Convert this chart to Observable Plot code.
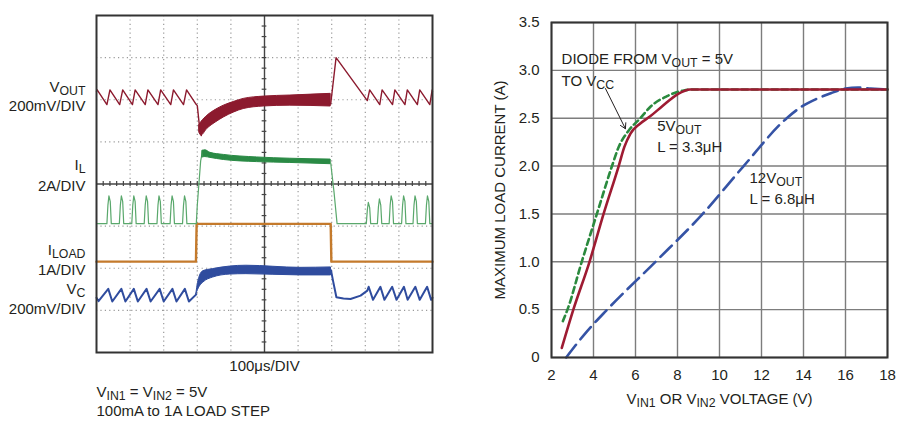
<!DOCTYPE html>
<html><head><meta charset="utf-8">
<script src="https://cdn.jsdelivr.net/npm/d3@7"></script>
<script src="https://cdn.jsdelivr.net/npm/@observablehq/plot@0.6"></script>
<style>
body{margin:0;background:#fff;}
#wrap{position:relative;width:900px;height:426px;overflow:hidden;}
#left,#right{position:absolute;top:0;}
#left{left:0}#right{left:450px}
</style></head><body><div id="wrap"><div id="left"></div><div id="right"></div></div>
<script>
// ---------- LEFT: oscilloscope (time in µs, 100µs/DIV; vertical in divisions, centre = 0) ----------
const voutPre = [[0,2.2],[2,2.235],[31,1.886],[40,2.235],[69,1.886],[78,2.235],[107,1.886],[115,2.235],[145,1.886],[153,2.235],[183,1.886],[191,2.235],[221,1.886],[229,2.235],[259,1.886],[268,2.235],[297,1.886],[300,1.86],[306,1.40],[312,1.15]];
const voutBand = [[306,1.40,1.22],[312,1.47,1.15],[330,1.62,1.31],[355,1.76,1.46],[379,1.86,1.58],[410,1.95,1.70],[438,2.02,1.78],[498,2.075,1.84],[577,2.10,1.86],[697,2.14,1.84]];
const voutPost = [[697,1.9],[713,3.0],[806,1.98],[813,2.235],[843,1.886],[850,2.235],[881,1.886],[888,2.235],[918,1.886],[925,2.235],[955,1.886],[962,2.235],[992,1.886],[999,2.235],[1000,2.2]];

const ilPre = [[0,-0.94],[31,-0.94],[34,-0.5],[37,-0.28],[41,-0.42],[44,-0.94],
  [68,-0.94],[71,-0.5],[74,-0.28],[78,-0.42],[81,-0.94],
  [105,-0.94],[108,-0.5],[111,-0.28],[115,-0.42],[118,-0.94],
  [142,-0.94],[145,-0.5],[148,-0.28],[152,-0.42],[155,-0.94],
  [180,-0.94],[183,-0.5],[186,-0.28],[190,-0.42],[193,-0.94],
  [219,-0.94],[222,-0.5],[225,-0.28],[229,-0.42],[232,-0.94],
  [256,-0.94],[259,-0.5],[262,-0.28],[266,-0.42],[269,-0.94],
  [297,-0.94],[300,-0.5],[310,0.55],[316,0.79]];
const ilBand = [[316,0.79,0.63],[324,0.80,0.64],[339,0.74,0.62],[379,0.69,0.57],[478,0.63,0.52],[577,0.60,0.50],[697,0.58,0.47]];
const ilPost = [[697,0.5],[707,-0.2],[716,-0.94],[803,-0.94],[806,-0.62],[809,-0.435],[813,-0.56],[816,-0.94],
  [836,-0.94],[839,-0.55],[842,-0.354],[846,-0.5],[849,-0.94],
  [871,-0.94],[874,-0.5],[877,-0.28],[881,-0.42],[884,-0.94],
  [908,-0.94],[911,-0.5],[914,-0.28],[918,-0.42],[921,-0.94],
  [942,-0.94],[945,-0.5],[948,-0.28],[952,-0.42],[955,-0.94],
  [979,-0.94],[982,-0.5],[985,-0.28],[989,-0.42],[992,-0.94],[1000,-0.94]];

const iload = [[0,-1.843],[296,-1.843],[298,-0.946],[697,-0.946],[699,-1.843],[1000,-1.843]];

const vcPre = [[0,-2.70],[6,-2.78],[35,-2.49],[47,-2.79],[74,-2.49],[86,-2.79],[111,-2.49],[123,-2.79],[149,-2.49],[161,-2.79],[188,-2.49],[200,-2.79],[226,-2.49],[238,-2.79],[263,-2.49],[275,-2.79],[297,-2.62]];
const vcBand = [[297,-2.62,-2.62],[302,-2.35,-2.52],[307,-2.20,-2.44],[318,-2.07,-2.34],[347,-2.02,-2.22],[397,-1.96,-2.15],[446,-1.94,-2.14],[607,-1.99,-2.17],[698,-1.98,-2.17]];
const vcPost = [[698,-2.05],[704,-2.3],[714,-2.69],[735,-2.72],[756,-2.73],[786,-2.65],[806,-2.53],[810,-2.44],[823,-2.75],[845,-2.44],[857,-2.75],[880,-2.44],[893,-2.75],[915,-2.44],[926,-2.75],[949,-2.44],[962,-2.75],[984,-2.44],[996,-2.75],[1000,-2.7]];

const scopeLabels = [
  {label:"V_{OUT}", v:2.31},{label:"200mV/DIV", v:1.84},
  {label:"I_{L}", v:0.44},{label:"2A/DIV", v:-0.05},
  {label:"I_{LOAD}", v:-1.57},{label:"1A/DIV", v:-2.04},
  {label:"V_{C}", v:-2.49},{label:"200mV/DIV", v:-2.97}];
const timeBase = "100μs/DIV";
const note1 = "V_{IN1} = V_{IN2} = 5V";
const note2 = "100mA to 1A LOAD STEP";

// ---------- RIGHT: max load current vs input voltage ----------
const vin5 = [2.49,3.04,3.81,4.48,5.2,5.47,5.76,6.2,6.7,7.3,8,8.6,9.5,18];
const i5   = [0.1,0.5,1.0,1.5,2.0,2.2,2.34,2.44,2.52,2.63,2.75,2.8,2.8,2.8];
const vinD = [2.54,2.76,3.44,4.16,4.88,5.2,5.67,6.23,6.71,7.5,8.3,8.8,18];
const iD   = [0.38,0.5,1.0,1.5,2.0,2.2,2.37,2.5,2.62,2.73,2.79,2.8,2.8];
const vin12 = [2.7,3.6,4.65,6.95,9.2,11.15,13.2,13.9,14.6,15.3,16,16.6,17.2,18];
const i12   = [0,0.25,0.5,1.0,1.5,2.0,2.5,2.62,2.7,2.76,2.81,2.82,2.81,2.8];
const xTicks = [2,4,6,8,10,12,14,16,18];
const yTicks = [0,0.5,1,1.5,2,2.5,3,3.5];
const annots = [
  {x:2.48, y:3.12, text:"DIODE FROM V_{OUT} = 5V"},
  {x:2.48, y:2.89, text:"TO V_{CC}"},
  {x:7.03, y:2.42, text:"5V_{OUT}"},
  {x:7.03, y:2.20, text:"L = 3.3μH"},
  {x:11.43, y:1.875, text:"12V_{OUT}"},
  {x:11.43, y:1.655, text:"L = 6.8μH"}];
const arrowSpec = [{x1:4.57, y1:2.81, x2:5.52, y2:2.39}];
const xLabel = "V_{IN1} OR V_{IN2} VOLTAGE (V)";
const yLabel = "MAXIMUM LOAD CURRENT (A)";

const TXT = "#231f20";
const FONT = "'Liberation Sans', Arial, Helvetica, sans-serif";
const P = d => d[0], Q = d => d[1];

const divT = [100,200,300,400,600,700,800,900];
const divV = [-3,-2,-1,1,2,3];
const minorT = d3.range(20, 1000, 20);
const minorV = d3.range(-3.75, 4, 0.25);

const cOut = "#8c1a2e", cIL = "#2a8a45", cILt = "#5aa86c", cLoad = "#c47a2c", cVc = "#2f4c9e";

const left = Plot.plot({
  width:450, height:426, marginLeft:96, marginRight:18, marginTop:15, marginBottom:74,
  x:{domain:[0,1000], axis:null}, y:{domain:[-4,4], axis:null},
  style:{fontFamily:FONT, fontSize:"15px", color:TXT, background:"white", overflow:"visible"},
  marks:[
    Plot.ruleX(divT, {stroke:"#9a9a9a", strokeDasharray:"1.2,3.2", strokeWidth:1.2}),
    Plot.ruleY(divV, {stroke:"#9a9a9a", strokeDasharray:"1.2,3.2", strokeWidth:1.2}),
    Plot.ruleX([500], {stroke:"#444", strokeWidth:1.4}),
    Plot.ruleY([0], {stroke:"#444", strokeWidth:1.4}),
    Plot.ruleX(minorT, {y1:-0.06, y2:0.06, stroke:"#444", strokeWidth:1.2}),
    Plot.ruleY(minorV, {x1:493, x2:507, stroke:"#444", strokeWidth:1.2}),
    Plot.line(iload, {x:P, y:Q, stroke:cLoad, strokeWidth:2.4}),
    Plot.line(ilPre, {x:P, y:Q, stroke:cILt, strokeWidth:1.2}),
    Plot.areaY(ilBand, {x:P, y1:d=>d[2], y2:d=>d[1], fill:cIL, stroke:cIL, strokeWidth:1, curve:"monotone-x"}),
    Plot.line(ilPost, {x:P, y:Q, stroke:cILt, strokeWidth:1.2}),
    Plot.line(voutPre, {x:P, y:Q, stroke:cOut, strokeWidth:1.4}),
    Plot.areaY(voutBand, {x:P, y1:d=>d[2], y2:d=>d[1], fill:cOut, stroke:cOut, strokeWidth:1, curve:"monotone-x"}),
    Plot.line(voutPost, {x:P, y:Q, stroke:cOut, strokeWidth:1.4}),
    Plot.line(vcPre, {x:P, y:Q, stroke:cVc, strokeWidth:2}),
    Plot.areaY(vcBand, {x:P, y1:d=>d[2], y2:d=>d[1], fill:cVc, stroke:cVc, strokeWidth:1, curve:"monotone-x"}),
    Plot.line(vcPost, {x:P, y:Q, stroke:cVc, strokeWidth:2}),
    Plot.frame({stroke:"#333", strokeWidth:2}),
    Plot.text(scopeLabels, {frameAnchor:"left", y:"v", text:"label", textAnchor:"end", dx:-11, fill:TXT, fontSize:15}),
    Plot.text([timeBase], {x:()=>500, frameAnchor:"bottom", dy:18, text:d=>d, textAnchor:"middle", fill:TXT, fontSize:15}),
    Plot.text([note1], {x:()=>0, frameAnchor:"bottom", dy:44, text:d=>d, textAnchor:"start", fill:TXT, fontSize:15}),
    Plot.text([note2], {x:()=>0, frameAnchor:"bottom", dy:63, text:d=>d, textAnchor:"start", fill:TXT, fontSize:15})
  ]
});

const right = Plot.plot({
  width:450, height:426, marginLeft:101, marginRight:13, marginTop:22, marginBottom:69,
  x:{domain:[2,18], label:null}, y:{domain:[0,3.5], label:null},
  style:{fontFamily:FONT, fontSize:"15px", color:TXT, background:"white", overflow:"visible"},
  marks:[
    Plot.ruleX(xTicks, {stroke:"#7d7d7d", strokeWidth:1.4}),
    Plot.ruleY(yTicks, {stroke:"#7d7d7d", strokeWidth:1.4}),
    Plot.text(annots, {x:"x", y:"y", text:"text", textAnchor:"start", fill:"white", fontSize:15, className:"halo"}),
    Plot.line(vinD.map((v,i)=>[v,iD[i]]), {x:P, y:Q, stroke:"#2b8a3e", strokeWidth:2.6, strokeDasharray:"6,4", curve:"monotone-x"}),
    Plot.line(vin12.map((v,i)=>[v,i12[i]]), {x:P, y:Q, stroke:"#3553a5", strokeWidth:2.6, strokeDasharray:"16,7", curve:"monotone-x"}),
    Plot.line(vin5.map((v,i)=>[v,i5[i]]), {x:P, y:Q, stroke:"#9e1b32", strokeWidth:2.6, curve:"monotone-x"}),
    Plot.arrow(arrowSpec, {x1:"x1", y1:"y1", x2:"x2", y2:"y2", stroke:TXT, strokeWidth:1, headLength:9}),
    Plot.text(annots, {x:"x", y:"y", text:"text", textAnchor:"start", fill:TXT, fontSize:15}),
    Plot.frame({stroke:"#333", strokeWidth:2}),
    Plot.axisX({ticks:xTicks, tickSize:0, tickPadding:12, fontSize:15, label:null}),
    Plot.axisY({ticks:yTicks, tickSize:0, tickPadding:12, fontSize:15, label:null, tickFormat:d=>d===0?"0":d.toFixed(1)}),
    Plot.text([xLabel], {x:()=>10, frameAnchor:"bottom", dy:46, text:d=>d, textAnchor:"middle", fill:TXT, fontSize:15}),
    Plot.text([yLabel], {y:()=>1.75, frameAnchor:"left", dx:-51, rotate:-90, text:d=>d, textAnchor:"middle", fill:TXT, fontSize:15})
  ]
});

document.getElementById("left").appendChild(left);
document.getElementById("right").appendChild(right);

const NS = "http://www.w3.org/2000/svg";
function applySubs(svg) {
  svg.querySelectorAll("text").forEach(el => {
    const s = el.textContent;
    if (!s.includes("_{")) return;
    const parts = s.split(/_\{([^}]*)\}/);
    while (el.firstChild) el.removeChild(el.firstChild);
    parts.forEach((p, i) => {
      if (p === "" && i % 2 === 0) return;
      const ts = document.createElementNS(NS, "tspan");
      ts.textContent = p;
      if (i % 2 === 1) { ts.setAttribute("dy", 3); ts.setAttribute("font-size", "82%"); }
      else if (i > 0) ts.setAttribute("dy", -3);
      el.appendChild(ts);
    });
  });
}
applySubs(left); applySubs(right);

// white boxes behind annotation text (sized from the rendered text)
right.querySelectorAll("g.halo text").forEach(t => {
  const b = t.getBBox();
  const r = document.createElementNS(NS, "rect");
  r.setAttribute("x", b.x - 4); r.setAttribute("y", b.y - 1);
  r.setAttribute("width", b.width + 8); r.setAttribute("height", b.height + 2);
  r.setAttribute("fill", "white");
  t.parentNode.insertBefore(r, t);
});
</script>
</body></html>
